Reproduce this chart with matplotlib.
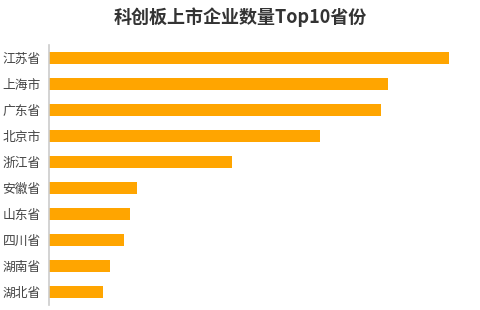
import matplotlib
matplotlib.use('Agg')
import matplotlib.pyplot as plt

plt.rcParams['font.family'] = ['Noto Sans CJK SC', 'DejaVu Sans']

# data
provinces = ['江苏省', '上海市', '广东省', '北京市', '浙江省',
             '安徽省', '山东省', '四川省', '湖南省', '湖北省']
counts = [59, 50, 49, 40, 27, 13, 12, 11, 9, 8]

fig = plt.figure(figsize=(4.81, 3.10), dpi=100)
ax = fig.add_axes([49 / 481, 5 / 310, 407 / 481, 260 / 310])

ax.barh(range(len(provinces)), counts, height=0.43, color='#FFA500')
ax.set_yticks(range(len(provinces)))
ax.set_yticklabels(provinces, fontsize=9.2, color='#444444')
ax.set_ylim(len(provinces) - 0.5, -0.5)
ax.set_xlim(0, 60)

ax.set_xticks([])
ax.tick_params(axis='y', length=0, pad=6)
for side in ['top', 'right', 'bottom']:
    ax.spines[side].set_visible(False)
ax.spines['left'].set_color('#cccccc')
ax.spines['left'].set_linewidth(1.2)

fig.text(0.5, 0.945, '科创板上市企业数量Top10省份', ha='center', va='center',
         fontsize=13, fontweight='bold', color='#333333')

fig.savefig('out.png', dpi=100)
